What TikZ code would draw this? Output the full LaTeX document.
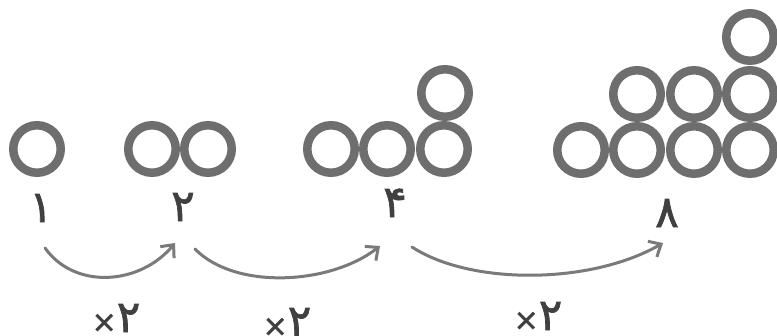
\documentclass[tikz,border=0pt]{standalone}
\usepackage{fontspec}
\usetikzlibrary{arrows.meta}
\newfontfamily\pfont[Script=Arabic,FakeBold=1.6]{DejaVu Sans}
\definecolor{ringgray}{HTML}{6E6E6E}
\definecolor{arrowgray}{HTML}{7A7A7A}
\definecolor{textgray}{HTML}{404040}
\begin{document}
\begin{tikzpicture}[x=1pt,y=-1pt,
  ball/.style={circle,draw=ringgray,line width=8.5pt,minimum size=47.5pt,inner sep=0pt},
  numlabel/.style={font=\pfont\fontsize{44}{44}\selectfont,text=textgray,inner sep=0pt,anchor=base,text depth=0pt},
  multlabel/.style={font=\pfont\fontsize{44}{44}\selectfont,text=textgray,inner sep=0pt,anchor=base,text depth=0pt},
  growarrow/.style={draw=arrowgray,line width=3pt,line cap=round,-{Straight Barb[length=10pt,width=18pt,line width=3pt]}}]
\useasboundingbox[fill=white] (0,0) rectangle (777,335);
% group 1
\node[ball] (a1) at (37,149) {};
% group 2
\node[ball] (b1) at (152,149) {};
\node[ball] (b2) at (208,149) {};
% group 4
\node[ball] (c1) at (331,149) {};
\node[ball] (c2) at (387,149) {};
\node[ball] (c3) at (444,149) {};
\node[ball] (c4) at (445,93) {};
% group 8
\node[ball] (d1) at (581,150) {};
\node[ball] (d2) at (637,150) {};
\node[ball] (d3) at (694,150) {};
\node[ball] (d4) at (750,150) {};
\node[ball] (d5) at (637,94) {};
\node[ball] (d6) at (694,94) {};
\node[ball] (d7) at (750,94) {};
\node[ball] (d8) at (750,37) {};
% numbers
\node[numlabel] (n1) at (41,222) {۱};
\node[numlabel] (n2) at (183,221) {۲};
\node[numlabel] (n4) at (395,217) {۴};
\node[numlabel] (n8) at (667,227) {۸};
% arrow end points
\coordinate (s1) at (45,248);
\coordinate (e1) at (175,243);
\coordinate (s2) at (195,249);
\coordinate (e2) at (380,246);
\coordinate (s3) at (412,247);
\coordinate (e3) at (663,243);
\draw[growarrow] (s1) .. controls (75,290) and (140,285) .. (e1);
\draw[growarrow] (s2) .. controls (235,290) and (330,285) .. (e2);
\draw[growarrow] (s3) .. controls (470,285) and (590,285) .. (e3);
% multipliers
\node[multlabel] (m1) at (116,332) {{\fontsize{30}{30}\selectfont ×}۲};
\node[multlabel] (m2) at (287,336) {{\fontsize{30}{30}\selectfont ×}۲};
\node[multlabel] (m3) at (538,330) {{\fontsize{30}{30}\selectfont ×}۲};
\end{tikzpicture}
\end{document}
